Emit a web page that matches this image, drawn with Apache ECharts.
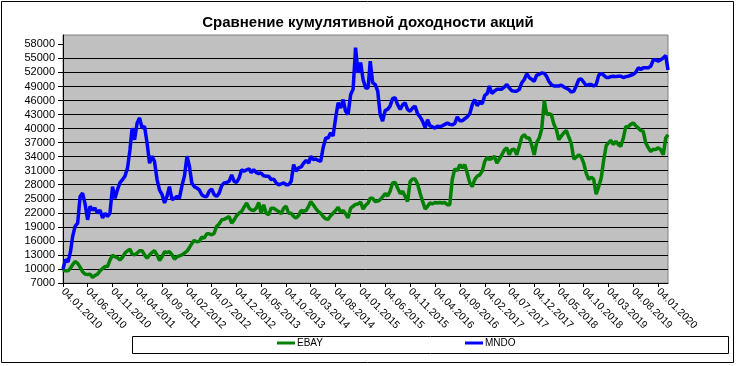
<!DOCTYPE html>
<html>
<head>
<meta charset="utf-8">
<script src="https://cdn.jsdelivr.net/npm/echarts@6/dist/echarts.min.js"></script>
<style>html,body{margin:0;padding:0;background:#fff}#c{width:736px;height:366px}</style>
</head>
<body>
<div id="c"></div>
<script>
// half-month sampling grid starting 04.01.2010 (04 and 19 of each month)
const sampleCount = 245;
const ebay = [9800,9600,9600,10200,10900,11600,11200,10400,9400,8900,8800,8900,8200,8600,8900,9600,10100,10500,10500,11900,
12900,12600,12400,11900,12500,13400,13900,14200,13200,13000,13400,13900,13900,13000,12300,13000,13500,13900,13000,11800,
12600,13700,13500,13700,13000,12100,12600,12800,13000,13400,13800,14600,15400,16100,15800,15900,16800,16600,17500,17500,
17300,17600,19100,19600,20500,20600,20900,21200,19800,20500,21400,21900,22300,23200,24100,23000,22600,22500,23000,24200,
21900,23700,21900,21600,23000,23000,22600,22300,21800,23000,23400,21900,21900,21200,20900,21400,22500,22300,22500,23400,
24400,23700,22900,22300,21900,21200,20700,20600,21400,21900,22500,23200,22100,22500,21800,20900,23000,23400,23800,23900,
24300,22800,23600,24100,25100,25100,24400,24500,24800,25400,26100,25600,26600,28400,28500,27300,26100,26600,25500,24400,
28700,29200,29200,28200,26200,24500,22800,23400,24100,23900,24200,24100,24200,24100,24200,23700,23700,29100,31400,31000,
32300,31600,32300,30500,28400,27600,29100,29800,30100,30900,33000,33900,33400,33600,34100,32600,33500,34400,35400,35900,
34400,35500,35600,34400,36300,38200,38700,38000,38000,36400,34400,37000,38000,39900,46000,43000,43200,43000,40900,39800,
37600,38400,39100,39600,38200,36900,33500,33900,34400,33900,32600,30500,29100,29600,29200,26000,27600,29400,33400,36400,
36900,37500,36600,37300,36600,36200,38000,40400,40400,40900,41200,40600,40100,39600,39400,37000,35900,35100,35600,35500,
35900,35500,34400,38000,38700];
const mndo = [10000,12000,11500,13700,16900,19100,19800,25500,26200,24000,20500,23400,22600,23000,21900,22600,20900,21900,21200,21900,
27600,25100,26900,28400,29100,29800,31600,35500,40100,37600,41200,42300,40100,40500,36900,32600,34100,33000,29100,26900,
25900,24100,25500,27600,24800,25100,25500,25100,27800,29800,34100,31900,28400,27600,27300,26900,25900,25500,25500,26600,
27100,25900,25500,26200,27800,28400,28500,28700,30100,28700,28500,29400,31200,30900,31200,31400,30600,31200,30600,30400,
30500,29900,29800,29800,29100,29200,28400,28000,28200,28400,28000,28000,28700,32300,30900,31600,31800,32600,33200,32600,
34100,33400,33500,33200,33000,35900,38000,38000,39100,38400,42300,45500,44400,46200,43700,43000,47300,48400,57300,51900,
54100,50500,48700,48700,54400,49800,49400,48000,43000,41600,43900,44100,44800,46400,46600,45100,44100,45100,45500,44100,
43700,44400,44800,43200,42500,41600,40200,41900,40600,40400,40100,40500,40400,40600,40900,41200,40900,40800,41100,42500,
41700,41700,42100,42500,43200,45100,46200,44900,45600,45300,47100,47500,49100,47500,48000,48400,48400,48400,48900,49400,
48700,48100,48000,48000,48400,49800,50500,51700,50900,50500,50100,51400,51600,51900,51800,51100,50100,49400,49100,49100,
49100,49300,48900,48600,48400,47800,48000,49100,50500,50600,49900,49200,49400,49400,49100,49400,51400,51800,51400,50900,
50900,51100,51200,51100,51200,51200,50900,51100,51200,51400,51600,52000,53000,52600,53000,53000,53000,53300,54600,54700,
54400,54700,55100,55600,52500];
const tickLabels = ['04.01.2010','04.06.2010','04.11.2010','04.04.2011','04.09.2011','04.02.2012','04.07.2012','04.12.2012',
'04.05.2013','04.10.2013','04.03.2014','04.08.2014','04.01.2015','04.06.2015','04.11.2015','04.04.2016','04.09.2016',
'04.02.2017','04.07.2017','04.12.2017','04.05.2018','04.10.2018','04.03.2019','04.08.2019','04.01.2020'];
const yTicks = [7000,10000,13000,16000,19000,22000,25000,28000,31000,34000,37000,40000,43000,46000,49000,52000,55000,58000];
const seriesNames = ['EBAY','MNDO'];

function sampleDate(k){ return Date.UTC(2010, Math.floor(k/2), k % 2 === 0 ? 4 : 19); }
function parseLabel(s){ const p = s.split('.'); return Date.UTC(+p[2], +p[1]-1, +p[0]); }
function fmt(v){ const d = new Date(v); const p = n => (n<10?'0':'')+n; return p(d.getUTCDate())+'.'+p(d.getUTCMonth()+1)+'.'+d.getUTCFullYear(); }

const dates = [];
for (let k = 0; k < sampleCount; k++) dates.push(sampleDate(k));
const tickValues = tickLabels.map(parseLabel);
const font = "'Liberation Sans', Arial, sans-serif";

const chart = echarts.init(document.getElementById('c'), null, {renderer:'canvas'});
chart.setOption({
  animation: false,
  backgroundColor: '#fff',
  textStyle: {fontFamily: font},
  title: {
    text: 'Сравнение кумулятивной доходности акций',
    left: 'center', top: 10,
    textStyle: {fontFamily: font, fontSize: 15, fontWeight: 'bold', color: '#000'}
  },
  grid: {left: 63, right: 68, top: 35, bottom: 83, show: true, backgroundColor: '#C0C0C0', borderColor: '#808080', borderWidth: 1, containLabel: false},
  legend: [
    {data: ['EBAY'], left: 277, top: 338, padding: 0, itemWidth: 18, itemHeight: 3, itemGap: 0, icon: 'rect',
     textStyle: {fontFamily: font, fontSize: 10, color: '#000', padding: [0,0,0,-3]}},
    {data: ['MNDO'], left: 465, top: 338, padding: 0, itemWidth: 18, itemHeight: 3, itemGap: 0, icon: 'rect',
     textStyle: {fontFamily: font, fontSize: 10, color: '#000', padding: [0,0,0,-3]}}
  ],
  xAxis: {
    type: 'value',
    min: dates[0], max: dates[dates.length-1],
    axisLine: {show: true, onZero: false, lineStyle: {color: '#000', width: 1}},
    axisTick: {show: true, length: 4, lineStyle: {color: '#000'}, customValues: tickValues},
    axisLabel: {show: true, rotate: -45, margin: 7, fontSize: 10.5, color: '#000', fontFamily: font,
      customValues: tickValues, formatter: v => fmt(v), hideOverlap: false},
    splitLine: {show: false}, minorTick: {show: false}
  },
  yAxis: {
    type: 'value',
    min: 7000, max: 60000, interval: 3000,
    axisLine: {show: true, lineStyle: {color: '#000', width: 1}},
    axisTick: {show: true, length: 5, lineStyle: {color: '#000'}, customValues: yTicks},
    axisLabel: {show: true, margin: 8, fontSize: 11, color: '#000', fontFamily: font, customValues: yTicks,
      formatter: v => String(v)},
    splitLine: {show: true, showMaxLine: false, lineStyle: {color: '#000', width: 1}}
  },
  series: [
    {name: seriesNames[0], type: 'line', showSymbol: false, symbol: 'none', color: '#008000',
     lineStyle: {color: '#008000', width: 3.5}, data: dates.map((d,i) => [d, ebay[i]])},
    {name: seriesNames[1], type: 'line', showSymbol: false, symbol: 'none', color: '#0000FF',
     lineStyle: {color: '#0000FF', width: 3.5}, data: dates.map((d,i) => [d, mndo[i]])}
  ],
  graphic: [
    {type: 'rect', shape: {x: 1.5, y: 1.5, width: 732, height: 361}, style: {fill: null, stroke: '#000', lineWidth: 1}, silent: true, z: -1},
    {type: 'rect', shape: {x: 132.5, y: 336.5, width: 596, height: 17}, style: {fill: null, stroke: '#000', lineWidth: 1}, silent: true, z: -1}
  ]
});
</script>
</body>
</html>
